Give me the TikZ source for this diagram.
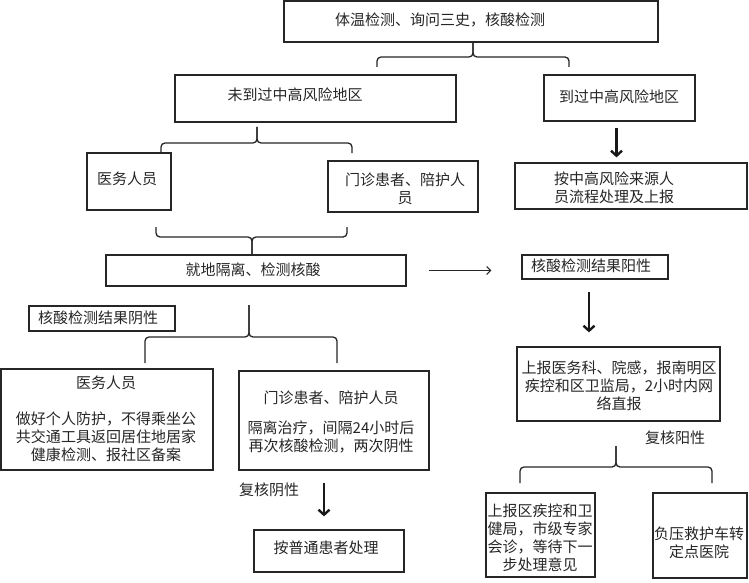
\documentclass[tikz,border=0pt]{standalone}
\usepackage{fontspec}
\setmainfont{Noto Sans CJK SC}
\usetikzlibrary{arrows.meta}
\newcommand{\mybrace}[6]{%
  \draw[brc] (#1,#6) -- (#1,#5) -- (#3,#5) -- (#3,#4);
  \draw[brc] (#3,#4) -- (#3,#5) -- (#2,#5) -- (#2,#6);}
\begin{document}
\begin{tikzpicture}[x=1pt,y=-1pt,
  box/.style={draw=black!85,line width=1.3pt,inner sep=0pt},
  txt/.style={font=\fontsize{15}{18}\selectfont,text=black!85,align=center,inner sep=0pt},
  brc/.style={draw=black!85,line width=1.3pt,rounded corners=4pt},
  thk/.style={draw=black!90,line width=2.4pt,-{Straight Barb[length=5pt,width=11pt]}},
  thn/.style={draw=black!85,line width=1pt,-{Straight Barb[length=4pt,width=8pt]}}]
\useasboundingbox[fill=white] (0,0) rectangle (749,583);
% boxes
\node[box,minimum width=374pt,minimum height=41pt] (top) at (471,21.5) {};
\node[box,minimum width=281pt,minimum height=47pt] (wd) at (315.5,98.5) {};
\node[box,minimum width=151pt,minimum height=46pt] (dg) at (619.5,98) {};
\node[box,minimum width=232pt,minimum height=46pt] (az) at (631,186) {};
\node[box,minimum width=84pt,minimum height=57pt] (ys1) at (129,181.5) {};
\node[box,minimum width=150pt,minimum height=51pt] (mz1) at (403,186.5) {};
\node[box,minimum width=300pt,minimum height=31pt] (jd) at (256,270.5) {};
\node[box,minimum width=146pt,minimum height=24pt] (yang) at (595,267) {};
\node[box,minimum width=146pt,minimum height=25pt] (yin) at (102,318.5) {};
\node[box,minimum width=212pt,minimum height=101pt] (ys2) at (107,419.5) {};
\node[box,minimum width=190pt,minimum height=99pt] (mz2) at (334,420.5) {};
\node[box,minimum width=150pt,minimum height=42pt] (pt) at (329,551) {};
\node[box,minimum width=203pt,minimum height=74pt] (sb) at (618.5,384) {};
\node[box,minimum width=109pt,minimum height=84pt] (qj) at (540.5,535) {};
\node[box,minimum width=94pt,minimum height=85pt] (fy) at (700,535.5) {};
% texts
\node[txt] (ttop) at (440,20) {体温检测、询问三史，核酸检测};
\node[txt] (twd) at (295,95) {未到过中高风险地区};
\node[txt] (tdg) at (619,97) {到过中高风险地区};
\node[txt] (taz) at (614,188) {按中高风险来源人\\员流程处理及上报};
\node[txt] (tys1) at (127,179) {医务人员};
\node[txt] (tmz1) at (405,188.5) {门诊患者、陪护人\\员};
\node[txt] (tjd) at (253,270) {就地隔离、检测核酸};
\node[txt] (tyang) at (591,266) {核酸检测结果阳性};
\node[txt] (tyin) at (98,318) {核酸检测结果阴性};
\node[txt] (tys2) at (106,419) {医务人员\\[18pt]做好个人防护，不得乘坐公\\共交通工具返回居住地居家\\健康检测、报社区备案};
\node[txt] (tmz2) at (331,421.5) {门诊患者、陪护人员\\[12pt]隔离治疗，间隔24小时后\\再次核酸检测，两次阴性};
\node[txt] (lfhy) at (269,490) {复核阴性};
\node[txt] (tpt) at (326,548) {按普通患者处理};
\node[txt] (tsb) at (619,385.5) {上报医务科、院感，报南明区\\疾控和区卫监局，2小时内网\\络直报};
\node[txt] (lfhyang) at (675,438) {复核阳性};
\node[txt] (tqj) at (540,538) {上报区疾控和卫\\健局，市级专家\\会诊，等待下一\\步处理意见};
\node[txt] (tfy) at (699,543) {负压救护车转\\定点医院};
% braces
\mybrace{377}{569}{473}{42}{57}{67}
\mybrace{161}{352}{257}{127}{143}{153}
\mybrace{156}{347}{252}{255}{237}{227}
\mybrace{145}{337}{249}{305}{337}{363}
\mybrace{520}{712}{616}{446}{467}{483}
% arrows
\draw[thk,shorten <=6pt,shorten >=5pt] ([xshift=-3pt]dg.south) -- ([xshift=-3pt]dg.south |- az.north);
\draw[thn,shorten <=22pt,shorten >=30pt] (jd.east) -- (jd.east -| yang.west);
\draw[thk,shorten <=12pt,shorten >=14pt] ([xshift=-6pt]yang.south) -- ([xshift=-6pt]yang.south |- sb.north);
\draw[thk,shorten <=12pt,shorten >=13pt] ([xshift=-5pt]pt.north |- mz2.south) -- ([xshift=-5pt]pt.north);
\end{tikzpicture}
\end{document}
